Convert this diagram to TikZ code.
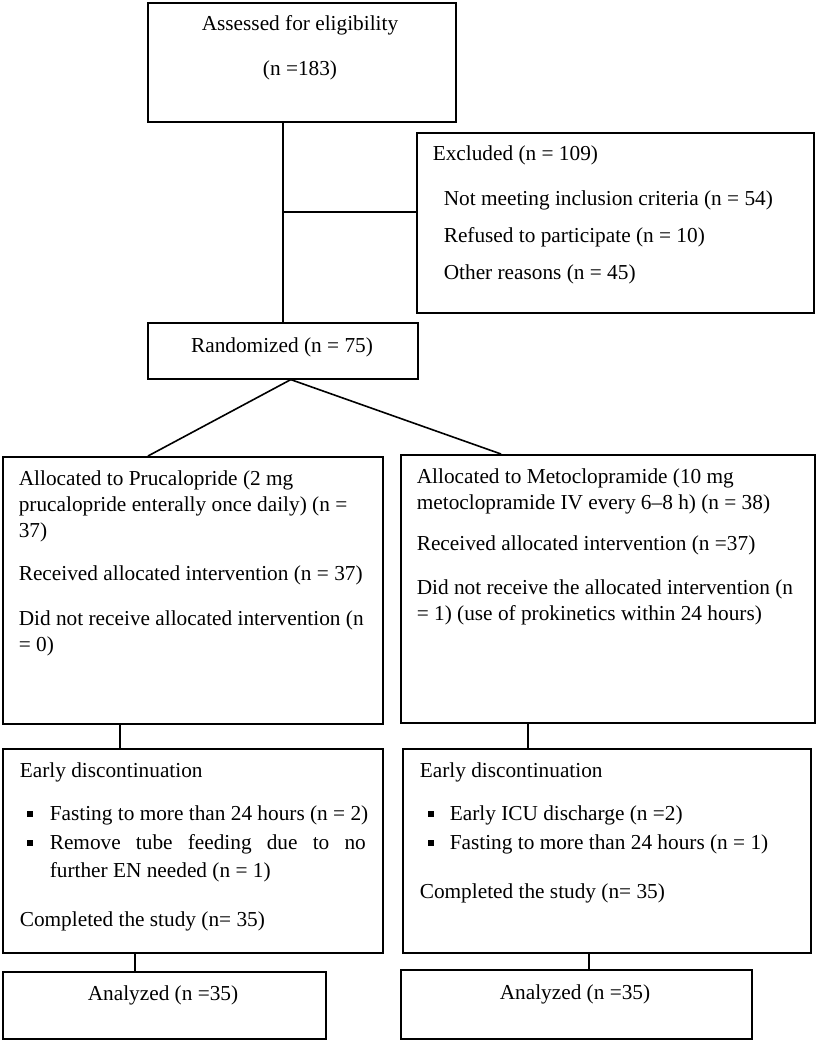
\documentclass[tikz,border=0pt]{standalone}
\usepackage{fontspec}
\setmainfont{Liberation Serif}

\begin{document}
\begin{tikzpicture}[x=1pt, y=-1pt, line width=1.6pt,
    every node/.style={font=\fontsize{21.3}{26}\selectfont},
    box/.style={draw, inner sep=0pt, anchor=north west},
    txt/.style={inner sep=0pt, anchor=base west, align=left},
    bullet/.style={fill, inner sep=0pt, minimum size=6.5pt}]
    \useasboundingbox (0,0) rectangle (816,1041);

    % Enrollment (multi-line texts are placed by their last line)
    \node[box, minimum width=308pt, minimum height=119pt] (assess) at (147,2) {};
    \node[inner sep=0pt, anchor=base, align=center] (assessT) at (300,75)
        {Assessed for eligibility\\[18pt](n =183)};

    \node[box, minimum width=397pt, minimum height=180pt] (excl) at (416,132) {};
    \node[txt] (exclT) at (432,160) {Excluded (n = 109)};
    \node[txt] (exclL) at (443,279)
        {Not meeting inclusion criteria (n = 54)\\[11pt]
         Refused to participate (n = 10)\\[11pt]
         Other reasons (n = 45)};

    \node[box, minimum width=270pt, minimum height=56pt] (rand) at (147,322) {};
    \node[inner sep=0pt, anchor=base] (randT) at (282,352) {Randomized (n = 75)};

    % Allocation
    \node[box, minimum width=380pt, minimum height=267pt] (allocL) at (2,456) {};
    \node[txt] (allocLT) at (18,651)
        {Allocated to Prucalopride (2 mg\\
         prucalopride enterally once daily) (n =\\
         37)\\[17pt]
         Received allocated intervention (n = 37)\\[19pt]
         Did not receive allocated intervention (n\\
         = 0)};

    \node[box, minimum width=414pt, minimum height=268pt] (allocR) at (400,454) {};
    \node[txt] (allocRT) at (416,620)
        {Allocated to Metoclopramide (10 mg\\
         metoclopramide IV every 6–8 h) (n = 38)\\[15pt]
         Received allocated intervention (n =37)\\[18pt]
         Did not receive the allocated intervention (n\\
         = 1) (use of prokinetics within 24 hours)};

    % Follow-up
    \node[box, minimum width=380pt, minimum height=204pt] (earlyL) at (2,748) {};
    \node[txt] (earlyLT) at (19,777) {Early discontinuation};
    \node[bullet] (bulL1) at (30,814) {};
    \node[bullet] (bulL2) at (30,843) {};
    \node[txt] (itemL1) at (49,820) {Fasting to more than 24 hours (n = 2)};
    \node[txt] (itemL2) at (49,877)
        {\makebox[316pt][s]{Remove tube feeding due to no}\\[2pt]
         further EN needed (n = 1)};
    \node[txt] (doneL) at (19,926) {Completed the study (n= 35)};

    \node[box, minimum width=408pt, minimum height=204pt] (earlyR) at (402,748) {};
    \node[txt] (earlyRT) at (419,777) {Early discontinuation};
    \node[bullet] (bulR1) at (431,814) {};
    \node[bullet] (bulR2) at (431,843) {};
    \node[txt] (itemR1) at (449,820) {Early ICU discharge (n =2)};
    \node[txt] (itemR2) at (449,849) {Fasting to more than 24 hours (n = 1)};
    \node[txt] (doneR) at (419,898) {Completed the study (n= 35)};

    % Analysis
    \node[box, minimum width=323pt, minimum height=67pt] (anaL) at (2,971) {};
    \node[inner sep=0pt, anchor=base] (anaLT) at (163,1000) {Analyzed (n =35)};
    \node[box, minimum width=351pt, minimum height=69pt] (anaR) at (400,969) {};
    \node[inner sep=0pt, anchor=base] (anaRT) at (575,999) {Analyzed (n =35)};

    % Connectors
    \draw (rand.north) -- (rand.north |- assess.south);
    \coordinate (branch) at (282,212);
    \draw (branch) -- (branch -| excl.west);

    \coordinate (split) at ([xshift=8pt]rand.south);
    \coordinate (armL) at (148,456);
    \coordinate (armR) at (501,454);
    \draw (armL) -- (split) -- (armR);

    \draw ([xshift=-73pt]allocL.south) -- ([xshift=-73pt]allocL.south |- earlyL.north);
    \draw ([xshift=-80pt]allocR.south) -- ([xshift=-80pt]allocR.south |- earlyR.north);
    \draw ([xshift=-58pt]earlyL.south) -- ([xshift=-58pt]earlyL.south |- anaL.north);
    \draw ([xshift=-18pt]earlyR.south) -- ([xshift=-18pt]earlyR.south |- anaR.north);
\end{tikzpicture}
\end{document}
